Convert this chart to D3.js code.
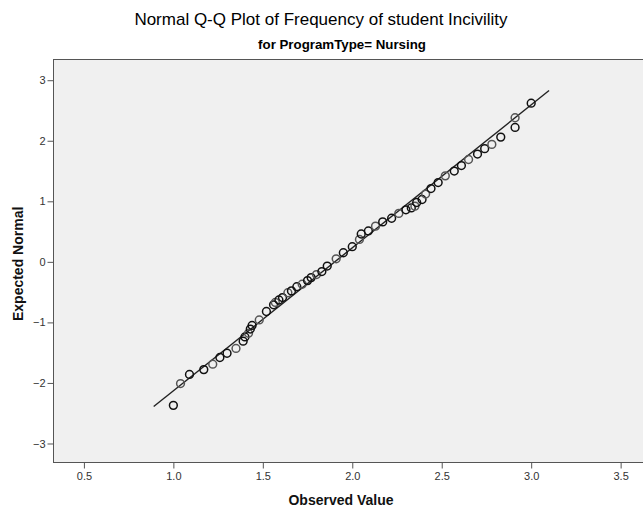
<!DOCTYPE html>
<html>
<head>
<meta charset="utf-8">
<script src="https://cdn.jsdelivr.net/npm/d3@7"></script>
<style>
  body { margin: 0; background: #fff; }
  svg { display: block; font-family: Arial, "Liberation Sans", sans-serif; }
  .title { font-size: 17px; fill: #000; }
  .subtitle { font-size: 13.3px; font-weight: bold; fill: #000; }
  .axis-label { font-size: 14px; font-weight: bold; fill: #111; }
  .tick text { font-size: 11px; fill: #333; }
  .tick line, .domain { stroke: #555; }
</style>
</head>
<body>
<svg width="643" height="512"></svg>
<script>
const observed = [
  1.00, 1.04, 1.09, 1.17, 1.22, 1.26, 1.30, 1.35, 1.39, 1.40,
  1.42, 1.43, 1.44, 1.48, 1.52, 1.56, 1.57, 1.59, 1.61, 1.64, 1.66, 1.69,
  1.72, 1.75, 1.77, 1.80, 1.83, 1.86, 1.91, 1.95, 2.00, 2.04,
  2.05, 2.09, 2.13, 2.17, 2.22, 2.26, 2.30, 2.33, 2.35, 2.36, 2.39,
  2.41, 2.44, 2.48, 2.52, 2.57, 2.61, 2.65, 2.70, 2.74, 2.78,
  2.83, 2.91, 2.91, 3.00
];
const expected = [
  -2.37, -2.01, -1.86, -1.78, -1.69, -1.58, -1.51, -1.43, -1.31, -1.24,
  -1.18, -1.11, -1.05, -0.96, -0.82, -0.71, -0.67, -0.63, -0.59, -0.51, -0.48, -0.41,
  -0.37, -0.31, -0.26, -0.21, -0.16, -0.07, 0.05, 0.15, 0.25, 0.37,
  0.46, 0.51, 0.59, 0.66, 0.72, 0.80, 0.86, 0.89, 0.92, 0.98, 1.03,
  1.12, 1.21, 1.31, 1.42, 1.50, 1.59, 1.69, 1.78, 1.87, 1.94,
  2.06, 2.22, 2.38, 2.62
];
const xTicks = [0.5, 1.0, 1.5, 2.0, 2.5, 3.0, 3.5];
const yTicks = [-3, -2, -1, 0, 1, 2, 3];
// reference line: normal with the sample mean and sd
const refMean = 1.902;
const refSd = 0.4235;
const refRange = [0.89, 3.10];

const svg = d3.select('svg');

const margin = { top: 59.5, left: 53.5, bottom: 462.5, right: 660 };

const xScale = d3.scaleLinear()
  .domain([0.33, 3.72])
  .range([margin.left, margin.right]);

const yScale = d3.scaleLinear()
  .domain([-3.314, 3.342])
  .range([margin.bottom, margin.top]);

// plot background
svg.append('rect')
  .attr('x', margin.left)
  .attr('y', margin.top)
  .attr('width', margin.right - margin.left)
  .attr('height', margin.bottom - margin.top)
  .attr('fill', '#f0f0f0')
  .attr('stroke', '#555')
  .attr('stroke-width', 1);

// axes
const xAxis = d3.axisBottom(xScale)
  .tickValues(xTicks)
  .tickFormat(d3.format('.1f'))
  .tickSizeOuter(0)
  .tickSize(6)
  .tickPadding(4);

const yAxis = d3.axisLeft(yScale)
  .tickValues(yTicks)
  .tickFormat(d3.format('d'))
  .tickSizeOuter(0)
  .tickSize(6)
  .tickPadding(2);

const xAxisG = svg.append('g')
  .attr('transform', `translate(0,${margin.bottom})`)
  .call(xAxis);
xAxisG.select('.domain').remove();

const yAxisG = svg.append('g')
  .attr('transform', `translate(${margin.left},0)`)
  .call(yAxis);
yAxisG.select('.domain').remove();

// reference line
const line = d3.line()
  .x(d => xScale(d))
  .y(d => yScale((d - refMean) / refSd));

svg.append('path')
  .attr('d', line(refRange))
  .attr('fill', 'none')
  .attr('stroke', '#222')
  .attr('stroke-width', 1.4);

// points
const points = observed.map((d, i) => ({ x: d, y: expected[i] }));

svg.append('g')
  .selectAll('circle')
  .data(points)
  .join('circle')
  .attr('cx', d => xScale(d.x))
  .attr('cy', d => yScale(d.y))
  .attr('r', 3.9)
  .attr('fill', 'none')
  .attr('stroke', (d, i) => i % 3 === 1 ? '#555' : '#111')
  .attr('stroke-width', 1.5);

// titles
svg.append('text')
  .attr('class', 'title')
  .attr('x', 321)
  .attr('y', 25)
  .attr('text-anchor', 'middle')
  .text('Normal Q-Q Plot of Frequency of student Incivility');

svg.append('text')
  .attr('class', 'subtitle')
  .attr('x', 342)
  .attr('y', 49)
  .attr('text-anchor', 'middle')
  .text('for ProgramType= Nursing');

svg.append('text')
  .attr('class', 'axis-label')
  .attr('x', 341)
  .attr('y', 505)
  .attr('text-anchor', 'middle')
  .text('Observed Value');

svg.append('text')
  .attr('class', 'axis-label')
  .attr('transform', `translate(23,${yScale(0) + 2}) rotate(-90)`)
  .attr('text-anchor', 'middle')
  .text('Expected Normal');
</script>
</body>
</html>
